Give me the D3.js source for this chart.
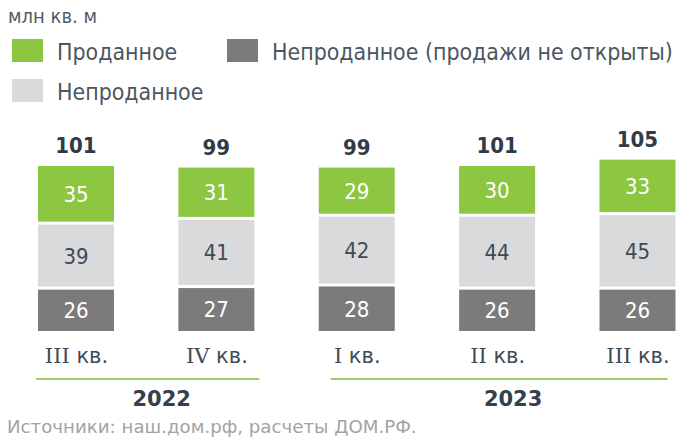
<!DOCTYPE html>
<html>
<head>
<meta charset="utf-8">
<script src="https://cdn.jsdelivr.net/npm/d3@7"></script>
<style>
  body { margin: 0; background: #fff; }
  text { font-family: 'DejaVu Sans Condensed', 'DejaVu Sans', sans-serif; }
</style>
</head>
<body>
<div id="chart-area"></div>
<script>
// DATA
const quarters = ['III кв.', 'IV кв.', 'I кв.', 'II кв.', 'III кв.']
const quarterYears = ['2022', '2022', '2023', '2023', '2023']
const notOpened = [26, 27, 28, 26, 26]
const unsold = [39, 41, 42, 44, 45]
const sold = [35, 31, 29, 30, 33]
const totals = [101, 99, 99, 101, 105]
const years = ['2022', '2023']

const seriesKeys = ['notOpened', 'unsold', 'sold']
const seriesNames = {
  sold: 'Проданное',
  notOpened: 'Непроданное (продажи не открыты)',
  unsold: 'Непроданное'
}
const COLORS = { sold: '#8dc641', unsold: '#d9dadc', notOpened: '#7b7b7b' }
const LABEL_COLORS = { sold: '#ffffff', unsold: '#3e4a55', notOpened: '#ffffff' }

const WIDTH = 700
const HEIGHT = 448
const BAR_W = 76
const GAP = 3

const svg = d3.select('#chart-area').append('svg')
  .attr('width', WIDTH)
  .attr('height', HEIGHT)

const table = quarters.map((q, i) => ({
  idx: i,
  notOpened: notOpened[i],
  unsold: unsold[i],
  sold: sold[i],
  total: totals[i]
}))
const stacked = d3.stack().keys(seriesKeys)(table)

// SCALES
const x = d3.scalePoint()
  .domain(d3.range(quarters.length))
  .range([76, 637.5])
const y = d3.scaleLinear()
  .domain([0, 110])
  .range([331, 331 - 110 * 1.59])

// units title
svg.append('text')
  .attr('x', 8)
  .attr('y', 23)
  .attr('font-size', '20px')
  .attr('fill', '#505b64')
  .text('млн кв. м')

// LEGEND
const legendItems = [
  { key: 'sold', x: 12, y: 39 },
  { key: 'notOpened', x: 227, y: 39 },
  { key: 'unsold', x: 12, y: 79 }
]
const legend = svg.append('g').selectAll('g')
  .data(legendItems)
  .enter().append('g')
  .attr('transform', d => `translate(${d.x}, ${d.y})`)
legend.append('rect')
  .attr('width', 31)
  .attr('height', 23)
  .attr('fill', d => COLORS[d.key])
legend.append('text')
  .attr('x', 45)
  .attr('y', 21)
  .attr('font-size', '22.9px')
  .attr('fill', '#4b5660')
  .text(d => seriesNames[d.key])

// BARS
const layers = svg.append('g').selectAll('g')
  .data(stacked)
  .enter().append('g')

layers.selectAll('rect')
  .data((s, li) => s.map(d => ({ d, li, key: s.key })))
  .enter().append('rect')
  .attr('x', o => x(o.d.data.idx) - BAR_W / 2)
  .attr('y', o => y(o.d[1]) - o.li * GAP)
  .attr('width', BAR_W)
  .attr('height', o => y(o.d[0]) - y(o.d[1]))
  .attr('fill', o => COLORS[o.key])

layers.selectAll('text')
  .data((s, li) => s.map(d => ({ d, li, key: s.key })))
  .enter().append('text')
  .attr('x', o => x(o.d.data.idx))
  .attr('y', o => (y(o.d[1]) + y(o.d[0])) / 2 - o.li * GAP)
  .attr('dy', '0.36em')
  .attr('text-anchor', 'middle')
  .attr('font-size', '22px')
  .attr('fill', o => LABEL_COLORS[o.key])
  .text(o => o.d.data[o.key])

// totals above bars
const topLayer = stacked[stacked.length - 1]
svg.append('g').selectAll('text')
  .data(topLayer)
  .enter().append('text')
  .attr('x', d => x(d.data.idx))
  .attr('y', d => y(d[1]) - (stacked.length - 1) * GAP - 13)
  .attr('text-anchor', 'middle')
  .attr('font-size', '22px')
  .attr('font-weight', 'bold')
  .attr('fill', '#2f3c47')
  .text(d => d.data.total)

// QUARTER AXIS
const xAxis = d3.axisBottom(x)
  .tickSize(0)
  .tickPadding(0)
  .tickFormat(i => quarters[i])
const axisG = svg.append('g')
  .attr('transform', 'translate(0, 348)')
  .call(xAxis)
axisG.select('.domain').remove()
axisG.selectAll('text')
  .attr('font-size', '21px')
  .attr('fill', '#3e4a55')
  .attr('dy', '0.71em')
  .style('font-family', "'DejaVu Sans', sans-serif")
  .each(function (i) {
    // roman numerals are drawn with serifs in the original
    const parts = quarters[i].split(' ')
    const t = d3.select(this).text(null)
    t.append('tspan')
      .style('font-family', "'DejaVu Serif', serif")
      .text(parts[0])
    t.append('tspan').text(' ' + parts[1])
  })

// YEAR GROUPS
const lineExt = { '2022': [40, 43], '2023': [26, 30] }
years.forEach(yr => {
  const idx = d3.range(quarters.length).filter(i => quarterYears[i] === yr)
  const x0 = x(d3.min(idx)) - lineExt[yr][0]
  const x1 = x(d3.max(idx)) + lineExt[yr][1]
  svg.append('line')
    .attr('x1', x0)
    .attr('x2', x1)
    .attr('y1', 379)
    .attr('y2', 379)
    .attr('stroke', '#9bcd6a')
    .attr('stroke-width', 2)
  svg.append('text')
    .attr('x', (x0 + x1) / 2 + 14)
    .attr('y', 406)
    .attr('text-anchor', 'middle')
    .attr('font-size', '21px')
    .attr('font-weight', 'bold')
    .attr('fill', '#34414c')
    .style('font-family', "'DejaVu Sans', sans-serif")
    .text(yr)
})

// SOURCE
svg.append('text')
  .attr('x', 7)
  .attr('y', 433)
  .attr('font-size', '18.2px')
  .attr('fill', '#a3a3a3')
  .style('font-family', "'DejaVu Sans', sans-serif")
  .text('Источники: наш.дом.рф, расчеты ДОМ.РФ.')
</script>
</body>
</html>
